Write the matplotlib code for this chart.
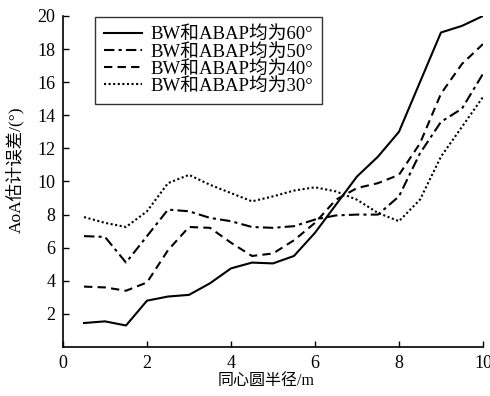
import matplotlib.pyplot as plt
import numpy as np

plt.rcParams['font.family'] = ['Liberation Serif', 'Noto Sans CJK SC']
plt.rcParams['axes.unicode_minus'] = False

# radius of the concentric circles (m)
radius = np.arange(0.5, 10.01, 0.5)

# AoA estimation error (deg)
err_60 = [1.45, 1.55, 1.3, 2.8, 3.05, 3.15, 3.85, 4.75, 5.1, 5.05, 5.5, 6.9,
          8.6, 10.3, 11.5, 13.0, 16.0, 19.0, 19.4, 20.0]
err_50 = [6.7, 6.65, 5.1, 6.7, 8.3, 8.2, 7.8, 7.6, 7.25, 7.2, 7.3, 7.7,
          7.95, 8.0, 8.0, 9.1, 11.7, 13.6, 14.4, 16.5]
err_40 = [3.65, 3.6, 3.4, 3.9, 5.85, 7.25, 7.2, 6.3, 5.5, 5.65, 6.45, 7.5,
          8.9, 9.6, 9.9, 10.4, 12.3, 15.3, 17.1, 18.3]
err_30 = [7.85, 7.5, 7.25, 8.2, 9.9, 10.4, 9.8, 9.3, 8.8, 9.1, 9.45, 9.65,
          9.4, 8.9, 8.1, 7.6, 8.9, 11.5, 13.3, 15.1]

labels = ['BW和ABAP均为60°', 'BW和ABAP均为50°', 'BW和ABAP均为40°', 'BW和ABAP均为30°']

fig = plt.figure(figsize=(4.9, 3.96), dpi=100)
ax = fig.add_axes([0.1286, 0.1237, 0.857, 0.836])

ax.plot(radius, err_60, color='black', lw=1.5, linestyle='-', label=labels[0])
ax.plot(radius, err_50, color='black', lw=1.5, linestyle=(0, (5, 2, 1.5, 2)), label=labels[1])
ax.plot(radius, err_40, color='black', lw=1.5, linestyle=(0, (4, 2.5)), label=labels[2])
ax.plot(radius, err_30, color='black', lw=1.5, linestyle=(0, (1, 1.2)), label=labels[3])

ax.set_xlim(0, 10)
ax.set_ylim(0, 20)
ax.set_xticks([0, 2, 4, 6, 8, 10])
ax.set_yticks(range(2, 21, 2))
ax.tick_params(direction='in', length=4, width=1, labelsize=13, colors='black', pad=5.5)
ax.spines['top'].set_visible(False)
ax.spines['right'].set_visible(False)
for s in ['left', 'bottom']:
    ax.spines[s].set_linewidth(1.2)

ax.set_xlabel('同心圆半径/m', fontsize=11.5)
ax.set_ylabel('AoA估计误差/(°)', fontsize=12.5)
ax.xaxis.set_label_coords(0.483, -0.08)
ax.yaxis.set_label_coords(-0.092, 0.535)

leg = ax.legend(loc='upper left', bbox_to_anchor=(0.076, 0.997), borderaxespad=0,
                fontsize=13.5, frameon=True, fancybox=False, handlelength=2.0,
                labelspacing=0.0, borderpad=0.5, handletextpad=0.45)
leg.get_frame().set_edgecolor('black')
leg.get_frame().set_linewidth(1.0)

fig.savefig('out.png', dpi=100)
